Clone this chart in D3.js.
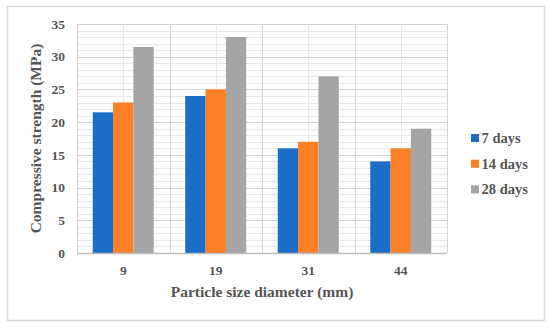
<!DOCTYPE html>
<html>
<head>
<meta charset="utf-8">
<script src="https://cdn.jsdelivr.net/npm/d3@7"></script>
<style>
  body { margin: 0; background: #fff; }
  text { font-family: "Liberation Serif", "Times New Roman", serif; font-weight: bold; fill: #555555; }
</style>
</head>
<body>
<div id="chart"></div>
<script>
// data
const categories = ["9", "19", "31", "44"];
const seriesNames = ["7 days", "14 days", "28 days"];
const days7 = [21.5, 24, 16, 14];
const days14 = [23, 25, 17, 16];
const days28 = [31.5, 33, 27, 19];
const seriesColors = ["#1a6ec8", "#fd7f26", "#a5a5a5"];
const yTicks = [0, 5, 10, 15, 20, 25, 30, 35];

const seriesValues = [days7, days14, days28];

const W = 550, H = 328;
const margin = { left: 77, top: 24, right: 103, bottom: 75 };
const plotW = W - margin.left - margin.right;
const plotH = H - margin.top - margin.bottom;

const svg = d3.select("#chart").append("svg")
  .attr("width", W).attr("height", H);

// outer frame
svg.append("rect")
  .attr("x", 7.5).attr("y", 6.5)
  .attr("width", 537).attr("height", 314)
  .attr("fill", "#fff").attr("stroke", "#d9d9d9").attr("stroke-width", 1.5);

const g = svg.append("g").attr("transform", "translate(" + [margin.left, margin.top] + ")");

const x = d3.scaleBand().domain(categories).range([0, plotW]).paddingInner(0).paddingOuter(0);
const inner = d3.scaleBand().domain(seriesNames).range([0, 61]);
const y = d3.scaleLinear().domain([0, 35]).range([plotH, 0]);

// minor horizontal grid
g.append("g").selectAll("line")
  .data(d3.range(0, 36, 1).filter(v => v % 5 !== 0))
  .join("line")
  .attr("x1", 0).attr("x2", plotW)
  .attr("y1", d => Math.round(y(d)) + 0.5).attr("y2", d => Math.round(y(d)) + 0.5)
  .attr("stroke", "#e8e8e8").attr("stroke-width", 1);

// minor vertical grid (category centres)
g.append("g").selectAll("line")
  .data(categories)
  .join("line")
  .attr("x1", d => Math.round(x(d) + x.bandwidth() / 2) + 0.5)
  .attr("x2", d => Math.round(x(d) + x.bandwidth() / 2) + 0.5)
  .attr("y1", 0).attr("y2", plotH)
  .attr("stroke", "#e8e8e8");

// major horizontal grid
g.append("g").selectAll("line")
  .data(yTicks.slice(1))
  .join("line")
  .attr("x1", 0).attr("x2", plotW)
  .attr("y1", d => Math.round(y(d)) + 0.5).attr("y2", d => Math.round(y(d)) + 0.5)
  .attr("stroke", "#d4d4d4");

// major vertical grid (category boundaries)
g.append("g").selectAll("line")
  .data(d3.range(categories.length + 1))
  .join("line")
  .attr("x1", i => Math.round(i * x.bandwidth()) + 0.5)
  .attr("x2", i => Math.round(i * x.bandwidth()) + 0.5)
  .attr("y1", 0).attr("y2", plotH)
  .attr("stroke", "#d4d4d4");

// bars
const groups = g.append("g").selectAll("g")
  .data(categories)
  .join("g")
  .attr("transform", d => "translate(" + [x(d) + (x.bandwidth() - inner.range()[1]) / 2, 0] + ")");

groups.selectAll("rect")
  .data((d, i) => seriesNames.map((s, j) => ({ s: s, v: seriesValues[j][i], c: seriesColors[j] })))
  .join("rect")
  .attr("x", d => inner(d.s))
  .attr("width", inner.bandwidth())
  .attr("y", d => y(d.v))
  .attr("height", d => plotH - y(d.v))
  .attr("fill", d => d.c);

// x axis line
g.append("line")
  .attr("x1", 0).attr("x2", plotW)
  .attr("y1", plotH + 0.5).attr("y2", plotH + 0.5)
  .attr("stroke", "#bfbfbf").attr("stroke-width", 1.5);

// y tick labels
g.append("g").selectAll("text")
  .data(yTicks)
  .join("text")
  .attr("x", -12).attr("y", d => y(d))
  .attr("dy", "0.35em")
  .attr("text-anchor", "end")
  .attr("font-size", 13.5)
  .text(d => d);

// x tick labels
g.append("g").selectAll("text")
  .data(categories)
  .join("text")
  .attr("x", d => x(d) + x.bandwidth() / 2)
  .attr("y", plotH + 17)
  .attr("dy", "0.35em")
  .attr("text-anchor", "middle")
  .attr("font-size", 13.5)
  .text(d => d);

// axis titles
svg.append("text")
  .attr("x", margin.left + plotW / 2).attr("y", 292)
  .attr("dy", "0.35em")
  .attr("text-anchor", "middle")
  .attr("font-size", 15.5)
  .text("Particle size diameter (mm)");

svg.append("text")
  .attr("transform", "translate(36," + (margin.top + plotH / 2) + ") rotate(-90)")
  .attr("dy", "0.35em")
  .attr("text-anchor", "middle")
  .attr("font-size", 15.5)
  .text("Compressive strength (MPa)");

// legend
const legend = svg.append("g").selectAll("g")
  .data(seriesNames)
  .join("g")
  .attr("transform", (d, i) => "translate(" + [471, 138 + i * 25.7] + ")");

legend.append("rect")
  .attr("x", 0).attr("y", -4)
  .attr("width", 8).attr("height", 8)
  .attr("fill", (d, i) => seriesColors[i]);

legend.append("text")
  .attr("x", 10.5).attr("dy", "0.35em")
  .attr("font-size", 14.5)
  .text(d => d);
</script>
</body>
</html>
